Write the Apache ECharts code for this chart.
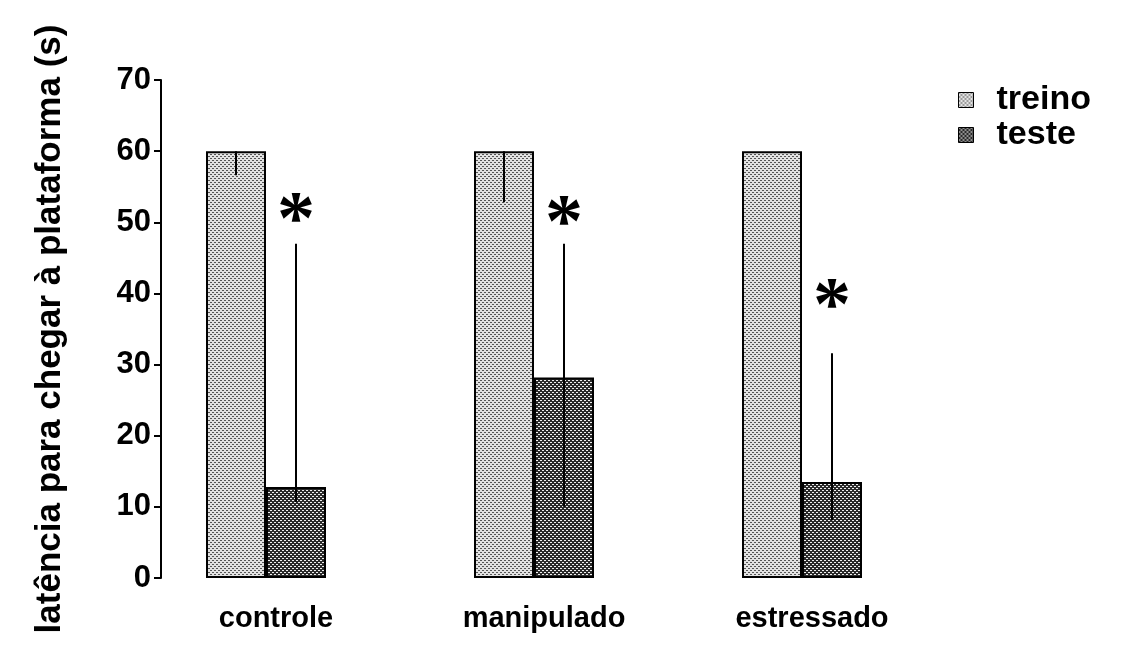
<!DOCTYPE html>
<html>
<head>
<meta charset="utf-8">
<script src="https://cdn.jsdelivr.net/npm/echarts@6/dist/echarts.min.js"></script>
<style>
  html, body { margin: 0; padding: 0; background: #fff; }
  #chart { width: 1127px; height: 657px; }
</style>
</head>
<body>
<div id="chart"></div>
<script>
// dados
const categories = ["controle", "manipulado", "estressado"];
const treino = [60, 60, 60];
const treinoErrLow = [56.6, 52.8, 60];
const teste = [12.8, 28.2, 13.5];
const testeErrHigh = [47.0, 47.0, 31.6];
const testeErrLow = [10.7, 10.0, 8.1];
const starAt = [52.1, 51.7, 40.0];
const yTicks = [0, 10, 20, 30, 40, 50, 60, 70];

const BAR_W = 60;
const FONT = "Liberation Sans, Arial, sans-serif";

// textura pontilhada das barras
function makePattern(bg, fg) {
  const c = document.createElement("canvas");
  c.width = 4; c.height = 4;
  const ctx = c.getContext("2d");
  ctx.fillStyle = bg;
  ctx.fillRect(0, 0, 4, 4);
  ctx.fillStyle = fg;
  ctx.fillRect(0, 0, 2, 1);
  ctx.fillRect(2, 2, 2, 1);
  return c;
}
const treinoFill = { image: makePattern("#e2e2e2", "#555"), repeat: "repeat" };
const testeFill = { image: makePattern("#2a2a2a", "#f0f0f0"), repeat: "repeat" };

const chart = echarts.init(document.getElementById("chart"));

const option = {
  backgroundColor: "#fff",
  animation: false,
  legend: {
    orient: "vertical",
    left: 953,
    top: 78,
    itemWidth: 15,
    itemHeight: 15,
    itemGap: 1,
    icon: "rect",
    data: ["treino", "teste"],
    textStyle: { fontFamily: FONT, fontWeight: "bold", fontSize: 34, color: "#000", padding: [0, 0, 0, 18] },
    itemStyle: { borderColor: "#000", borderWidth: 1 }
  },
  grid: { left: 132, right: 191, top: 80, bottom: 79 },
  xAxis: {
    type: "category",
    data: categories,
    axisLine: { show: false },
    axisTick: { show: false },
    axisLabel: {
      margin: 26,
      fontFamily: FONT, fontWeight: "bold", fontSize: 29, color: "#000",
      padding: [0, 0, 0, 20]
    }
  },
  yAxis: {
    type: "value",
    min: 0, max: 70, interval: 10,
    offset: -29,
    name: "latência para chegar à plataforma (s)",
    nameLocation: "middle",
    nameGap: 93,
    nameTextStyle: { fontFamily: FONT, fontWeight: "bold", fontSize: 35, color: "#000" },
    splitLine: { show: false },
    axisLine: { show: true, lineStyle: { color: "#000", width: 2 } },
    axisTick: { show: true, length: 7, lineStyle: { color: "#000", width: 2 } },
    axisLabel: {
      margin: 10,
      fontFamily: FONT, fontWeight: "bold", fontSize: 31, color: "#000",
      formatter: v => (yTicks.includes(v) ? String(v) : "")
    }
  },
  series: [
    {
      name: "treino", type: "bar", data: treino,
      barWidth: BAR_W, barGap: "0%",
      itemStyle: { color: treinoFill, borderColor: "#000", borderWidth: 2 }
    },
    {
      name: "teste", type: "bar", data: teste,
      barWidth: BAR_W, barGap: "0%",
      itemStyle: { color: testeFill, borderColor: "#000", borderWidth: 2 }
    },
    {
      // barras de erro
      type: "custom",
      silent: true,
      z: 5,
      data: categories.map((c, i) => [i, treino[i], treinoErrLow[i], testeErrHigh[i], testeErrLow[i]]),
      renderItem: function (params, api) {
        const i = api.value(0);
        const t0 = api.coord([i, api.value(1)]);
        const t1 = api.coord([i, api.value(2)]);
        const e0 = api.coord([i, api.value(3)]);
        const e1 = api.coord([i, api.value(4)]);
        const xa = t0[0] - BAR_W / 2;
        const xb = t0[0] + BAR_W / 2;
        return {
          type: "group",
          children: [
            { type: "line", shape: { x1: xa, y1: t0[1], x2: xa, y2: t1[1] }, style: { stroke: "#000", lineWidth: 2 } },
            { type: "line", shape: { x1: xb, y1: e0[1], x2: xb, y2: e1[1] }, style: { stroke: "#000", lineWidth: 2 } }
          ]
        };
      }
    },
    {
      // asteriscos
      type: "custom",
      silent: true,
      z: 6,
      data: categories.map((c, i) => [i, starAt[i]]),
      renderItem: function (params, api) {
        const p = api.coord([api.value(0), api.value(1)]);
        return {
          type: "text",
          x: p[0] + BAR_W / 2,
          y: p[1] + 16, // o glifo fica alto na caixa
          style: {
            text: "*",
            fill: "#000",
            font: "bold 76px 'Liberation Serif', serif",
            align: "center",
            verticalAlign: "middle"
          }
        };
      }
    }
  ]
};

chart.setOption(option);
</script>
</body>
</html>
